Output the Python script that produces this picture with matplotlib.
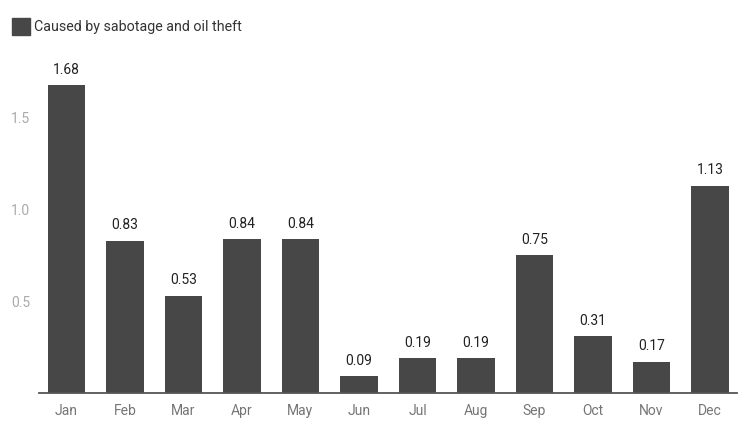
import matplotlib
matplotlib.use("Agg")
import matplotlib.pyplot as plt
from matplotlib.patches import Rectangle

months = ["Jan", "Feb", "Mar", "Apr", "May", "Jun", "Jul", "Aug", "Sep", "Oct", "Nov", "Dec"]
values = [1.68, 0.83, 0.53, 0.84, 0.84, 0.09, 0.19, 0.19, 0.75, 0.31, 0.17, 1.13]
yticks = [0.5, 1.0, 1.5]
series_name = "Caused by sabotage and oil theft"

bar_color = "#474747"
fam = ["Roboto", "DejaVu Sans"]

W, H = 750, 430
fig = plt.figure(figsize=(W / 100, H / 100), dpi=100)
ymax = 1.8
y0_px, per_unit = 393, 183.4
top_px = y0_px - ymax * per_unit
left_px, right_px = 37.25, 739.25
ax = fig.add_axes([left_px / W, 1 - y0_px / H, (right_px - left_px) / W, (y0_px - top_px) / H])

x = list(range(len(months)))
ax.bar(x, values, width=0.64, color=bar_color, zorder=2)
for xi, v in zip(x, values):
    ax.annotate(f"{v:.2f}", (xi, v), xytext=(0, 6), textcoords="offset points",
                ha="center", va="bottom", fontsize=10, color="#222222", family=fam)

ax.set_xlim(-0.5, len(months) - 0.5)
ax.set_ylim(0, ymax)
ax.set_xticks(x)
ax.set_xticklabels(months, family=fam, fontsize=10, color="#757575")
ax.set_yticks(yticks)
ax.set_yticklabels([f"{t:.1f}" for t in yticks], family=fam, fontsize=10, color="#aaaaaa")
ax.tick_params(axis="both", length=0)
ax.tick_params(axis="x", pad=8)
ax.tick_params(axis="y", pad=5)
for s in ["top", "right", "left"]:
    ax.spines[s].set_visible(False)
ax.spines["bottom"].set_color("#555555")
ax.spines["bottom"].set_linewidth(1.3)
ax.spines["bottom"].set_bounds(-0.5 + 2 / 58.5, 11.5 - 2 / 58.5)

# legend
fig.patches.append(Rectangle((12 / W, 1 - 35 / H), 18 / W, 17 / H, transform=fig.transFigure,
                             color=bar_color, figure=fig))
fig.text(34 / W, 1 - 27 / H, series_name, ha="left", va="center", fontsize=10.3,
         color="#333333", family=fam)

fig.savefig("out.png", dpi=100)
